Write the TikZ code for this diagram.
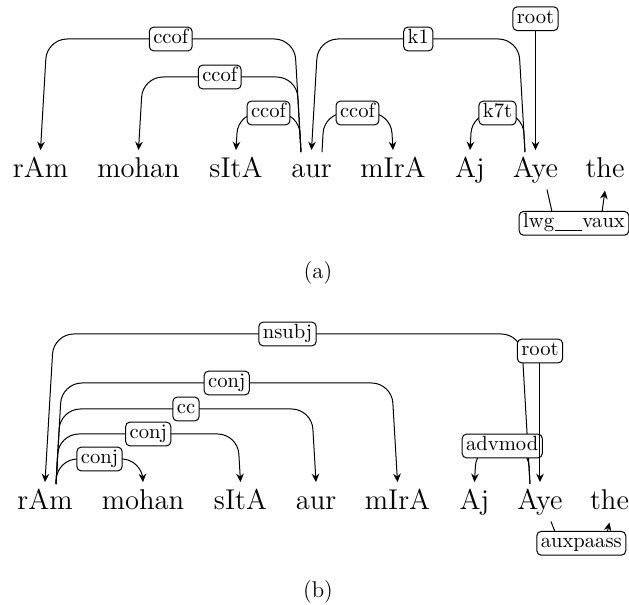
\documentclass[tikz,border=0pt]{standalone}
\usetikzlibrary{arrows.meta,calc}
\newcommand{\uscore}{\kern0.3pt\rule[-1.8pt]{13.6pt}{0.45pt}\kern0.3pt}
\begin{document}
\begin{tikzpicture}[x=0.5pt,y=-0.5pt,
  word/.style={font=\fontsize{14.3}{17}\selectfont, anchor=base, inner xsep=0pt, inner ysep=3.5pt, text height=10pt, text depth=2.8pt},
  lab/.style={draw, fill=white, rounded corners=2.2pt, line width=0.5pt, inner xsep=2pt, inner ysep=2pt, font=\fontsize{10.3}{12}\selectfont, text height=6.2pt, text depth=1.7pt},
  dep/.style={draw, line width=0.5pt, rounded corners=10pt, -{Stealth[length=4.2pt,width=3.8pt]}},
  lowdep/.style={dep, rounded corners=2pt},
  captxt/.style={font=\fontsize{11.4}{13}\selectfont}]
\useasboundingbox (0,0) rectangle (629,605);

% ---------- (a) ----------
\node[word] (a1) at (40.5,177.5) {rAm};
\node[word] (a2) at (138.5,177.5) {mohan};
\node[word] (a3) at (236,177.5) {sItA};
\node[word] (a4) at (311.5,177.5) {aur};
\node[word] (a5) at (393,177.5) {mIrA};
\node[word] (a6) at (470,177.5) {Aj};
\node[word] (a7) at (535.5,177.5) {Aye};
\node[word] (a8) at (605,177.5) {the};

\draw[dep] ($(a4.north)+(-10.5,2)$) -- (294.5,39) -- (47,39) node[lab,midway]{ccof} -- (a1.north);
\draw[dep] ($(a4.north)+(-10.5,2)$) -- (296.7,77) -- (142.8,77) node[lab,midway]{ccof} -- (a2.north);
\draw[dep] ($(a4.north)+(-10.5,2)$) -- (298.8,113) -- (238.2,113) node[lab,midway]{ccof} -- (a3.north);
\draw[dep] ($(a7.north)+(-10.5,2)$) -- (518.5,39) -- (318,39) node[lab,midway]{k1} -- (a4.north);
\draw[dep] ($(a4.north)+(10.5,2)$) -- (324.2,113) -- (390.8,113) node[lab,midway]{ccof} -- (a5.north);
\draw[dep] ($(a7.north)+(-10.5,2)$) -- (522.8,113) -- (472.2,113) node[lab,midway]{k7t} -- (a6.north);
\node[lab] (ra) at (535.5,18.7) {root};
\draw[dep] (ra.south) -- (a7.north);
\draw[lowdep] ($(a7.south)+(11.5,-1)$) -- (554.6,223.3) -- (600.5,223.3) -- (a8.south);
\node[lab] (la) at (574,223.3) {lwg\uscore vaux};

\node[captxt] (ca) at (318,273) {(a)};

% ---------- (b) ----------
\node[word] (b1) at (45,509.5) {rAm};
\node[word] (b2) at (143,509.5) {mohan};
\node[word] (b3) at (240.5,509.5) {sItA};
\node[word] (b4) at (316,509.5) {aur};
\node[word] (b5) at (397.5,509.5) {mIrA};
\node[word] (b6) at (474.5,509.5) {Aj};
\node[word] (b7) at (540,509.5) {Aye};
\node[word] (b8) at (609.5,509.5) {the};

\draw[dep] ($(b7.north)+(-10,2)$) -- (521.3,334) -- (53.7,334) node[lab,midway]{nsubj} -- (b1.north);
\draw[dep] ($(b1.north)+(11,2)$) -- (61.8,383) -- (391.7,383) node[lab,midway]{conj} -- (b5.north);
\draw[dep] ($(b1.north)+(11,2)$) -- (60.3,409) -- (311.7,409) node[lab,midway]{cc} -- (b4.north);
\draw[dep] ($(b1.north)+(11,2)$) -- (58.8,434) -- (237.7,434) node[lab,midway]{conj} -- (b3.north);
\draw[dep] ($(b1.north)+(11,2)$) -- (57.4,459) -- (141.6,459) node[lab,midway]{conj} -- (b2.north);
\draw[dep] ($(b7.north)+(-10,2)$) -- (527.9,446) -- (476.6,446) node[lab,midway]{advmod} -- (b6.north);
\node[lab] (rb) at (540,351) {root};
\draw[dep] (rb.south) -- (b7.north);
\draw[lowdep] ($(b7.south)+(11,-1)$) -- (559.5,543.3) -- (604.7,543.3) -- (b8.south);
\node[lab] (lb) at (581.3,543.3) {auxpaass};

\node[captxt] (cb) at (318,592) {(b)};
\end{tikzpicture}
\end{document}
